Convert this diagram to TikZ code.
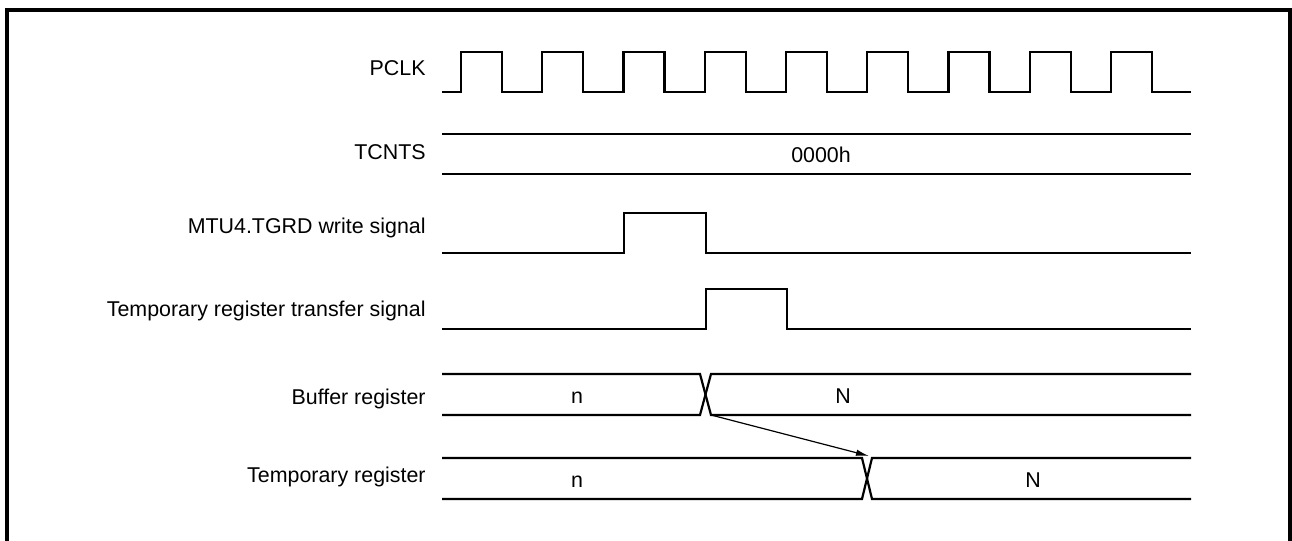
\documentclass[tikz,border=0pt]{standalone}
\usepackage{fontspec}
\setmainfont{Liberation Sans}
\usetikzlibrary{arrows.meta}
\begin{document}
\begin{tikzpicture}[x=0.5pt, y=-0.5pt,
    sig/.style={line width=1.1pt},
    lbl/.style={anchor=base east, inner sep=0pt, font=\fontsize{10.7}{12}\selectfont},
    val/.style={anchor=base, inner sep=0pt, font=\fontsize{10.7}{12}\selectfont}]
    \useasboundingbox (0,0) rectangle (1292,541);
    \draw[line width=1.8pt] (7,541) -- (7,10) -- (1290,10) -- (1290,541);
    % PCLK
    \node[lbl] (pclk) at (426,75) {PCLK};
    \draw[sig] (442,92) \foreach \i in {0,...,8} { -- ({461+81.25*\i},92) -- ++(0,-40) -- ++(41,0) -- ++(0,40) } -- (1191,92);
    % TCNTS
    \node[lbl] (tcnts) at (426,159) {TCNTS};
    \draw[sig] (442,134) -- (1191,134) (442,174) -- (1191,174);
    \node[val] (cnt) at (821,162.5) {0000h};
    % write signal
    \node[lbl] (wr) at (426,233) {MTU4.TGRD write signal};
    \draw[sig] (442,253) -- (624,253) -- (624,213) -- (706,213) -- (706,253) -- (1191,253);
    % transfer signal
    \node[lbl] (tr) at (426,316.5) {Temporary register transfer signal};
    \draw[sig] (442,329) -- (706,329) -- (706,289) -- (787,289) -- (787,329) -- (1191,329);
    % buffer register
    \node[lbl] (buf) at (426,404) {Buffer register};
    \draw[sig] (442,374) -- (700,374) -- (711,415) -- (1191,415);
    \draw[sig] (442,415) -- (700,415) -- (711,374) -- (1191,374);
    \node[val] (bufn) at (577,403) {n};
    \node[val] (bufN) at (843,403) {N};
    % temporary register
    \node[lbl] (tmp) at (426,482.5) {Temporary register};
    \draw[sig] (442,458) -- (862,458) -- (872,499) -- (1191,499);
    \draw[sig] (442,499) -- (862,499) -- (872,458) -- (1191,458);
    \node[val] (tmpn) at (577,487.5) {n};
    \node[val] (tmpN) at (1033,487) {N};
    % transfer arrow
    \coordinate (src) at (711,415);
    \coordinate (dst) at (869,456);
    \draw[line width=0.6pt, -{Latex[length=6.5pt,width=3.2pt]}] (src) -- (dst);
\end{tikzpicture}
\end{document}
